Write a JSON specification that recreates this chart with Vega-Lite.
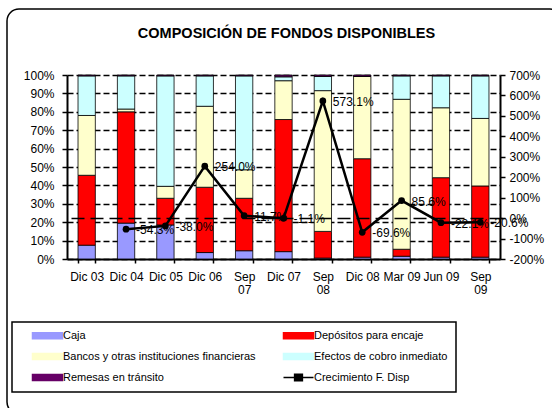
{
  "$schema": "https://vega.github.io/schema/vega-lite/v6.json",
  "width": 555,
  "height": 405,
  "autosize": "none",
  "padding": {"left": 7, "top": 9, "right": -10, "bottom": -6},
  "background": "white",
  "config": {
    "font": "Liberation Sans",
    "view": {"stroke": "black", "strokeWidth": 1.5, "cornerRadius": 12},
    "locale": {"number": {"decimal": ".", "thousands": ",", "grouping": [3], "currency": ["$", ""], "minus": "-"}},
    "axis": {"labelFont": "Liberation Sans", "labelFontSize": 12, "labelColor": "black", "domainColor": "black", "tickColor": "black", "title": null}
  },
  "title": {
    "text": "COMPOSICIÓN DE FONDOS DISPONIBLES",
    "font": "Liberation Sans",
    "fontSize": 14.5,
    "fontWeight": "bold",
    "color": "black",
    "anchor": "middle",
    "frame": "group",
    "baseline": "alphabetic",
    "offset": -43,
    "dx": 2
  },
  "datasets": {
    "barras": [
      {"periodo": "Dic 03", "orden": 1, "serie": "Caja", "valor": 0.075},
      {"periodo": "Dic 03", "orden": 2, "serie": "Depósitos para encaje", "valor": 0.38},
      {"periodo": "Dic 03", "orden": 3, "serie": "Bancos y otras instituciones financieras", "valor": 0.325},
      {"periodo": "Dic 03", "orden": 4, "serie": "Efectos de cobro inmediato", "valor": 0.215},
      {"periodo": "Dic 03", "orden": 5, "serie": "Remesas en tránsito", "valor": 0.005},
      {"periodo": "Dic 04", "orden": 1, "serie": "Caja", "valor": 0.195},
      {"periodo": "Dic 04", "orden": 2, "serie": "Depósitos para encaje", "valor": 0.605},
      {"periodo": "Dic 04", "orden": 3, "serie": "Bancos y otras instituciones financieras", "valor": 0.015},
      {"periodo": "Dic 04", "orden": 4, "serie": "Efectos de cobro inmediato", "valor": 0.18},
      {"periodo": "Dic 04", "orden": 5, "serie": "Remesas en tránsito", "valor": 0.005},
      {"periodo": "Dic 05", "orden": 1, "serie": "Caja", "valor": 0.185},
      {"periodo": "Dic 05", "orden": 2, "serie": "Depósitos para encaje", "valor": 0.145},
      {"periodo": "Dic 05", "orden": 3, "serie": "Bancos y otras instituciones financieras", "valor": 0.065},
      {"periodo": "Dic 05", "orden": 4, "serie": "Efectos de cobro inmediato", "valor": 0.6},
      {"periodo": "Dic 05", "orden": 5, "serie": "Remesas en tránsito", "valor": 0.005},
      {"periodo": "Dic 06", "orden": 1, "serie": "Caja", "valor": 0.035},
      {"periodo": "Dic 06", "orden": 2, "serie": "Depósitos para encaje", "valor": 0.355},
      {"periodo": "Dic 06", "orden": 3, "serie": "Bancos y otras instituciones financieras", "valor": 0.44},
      {"periodo": "Dic 06", "orden": 4, "serie": "Efectos de cobro inmediato", "valor": 0.165},
      {"periodo": "Dic 06", "orden": 5, "serie": "Remesas en tránsito", "valor": 0.005},
      {"periodo": "Sep 07", "orden": 1, "serie": "Caja", "valor": 0.045},
      {"periodo": "Sep 07", "orden": 2, "serie": "Depósitos para encaje", "valor": 0.285},
      {"periodo": "Sep 07", "orden": 3, "serie": "Bancos y otras instituciones financieras", "valor": 0.155},
      {"periodo": "Sep 07", "orden": 4, "serie": "Efectos de cobro inmediato", "valor": 0.51},
      {"periodo": "Sep 07", "orden": 5, "serie": "Remesas en tránsito", "valor": 0.005},
      {"periodo": "Dic 07", "orden": 1, "serie": "Caja", "valor": 0.04},
      {"periodo": "Dic 07", "orden": 2, "serie": "Depósitos para encaje", "valor": 0.718},
      {"periodo": "Dic 07", "orden": 3, "serie": "Bancos y otras instituciones financieras", "valor": 0.211},
      {"periodo": "Dic 07", "orden": 4, "serie": "Efectos de cobro inmediato", "valor": 0.021},
      {"periodo": "Dic 07", "orden": 5, "serie": "Remesas en tránsito", "valor": 0.01},
      {"periodo": "Sep 08", "orden": 1, "serie": "Caja", "valor": 0.005},
      {"periodo": "Sep 08", "orden": 2, "serie": "Depósitos para encaje", "valor": 0.145},
      {"periodo": "Sep 08", "orden": 3, "serie": "Bancos y otras instituciones financieras", "valor": 0.765},
      {"periodo": "Sep 08", "orden": 4, "serie": "Efectos de cobro inmediato", "valor": 0.077},
      {"periodo": "Sep 08", "orden": 5, "serie": "Remesas en tránsito", "valor": 0.008},
      {"periodo": "Dic 08", "orden": 1, "serie": "Caja", "valor": 0.01},
      {"periodo": "Dic 08", "orden": 2, "serie": "Depósitos para encaje", "valor": 0.535},
      {"periodo": "Dic 08", "orden": 3, "serie": "Bancos y otras instituciones financieras", "valor": 0.447},
      {"periodo": "Dic 08", "orden": 4, "serie": "Efectos de cobro inmediato", "valor": 0.0},
      {"periodo": "Dic 08", "orden": 5, "serie": "Remesas en tránsito", "valor": 0.008},
      {"periodo": "Mar 09", "orden": 1, "serie": "Caja", "valor": 0.015},
      {"periodo": "Mar 09", "orden": 2, "serie": "Depósitos para encaje", "valor": 0.038},
      {"periodo": "Mar 09", "orden": 3, "serie": "Bancos y otras instituciones financieras", "valor": 0.815},
      {"periodo": "Mar 09", "orden": 4, "serie": "Efectos de cobro inmediato", "valor": 0.127},
      {"periodo": "Mar 09", "orden": 5, "serie": "Remesas en tránsito", "valor": 0.005},
      {"periodo": "Jun 09", "orden": 1, "serie": "Caja", "valor": 0.01},
      {"periodo": "Jun 09", "orden": 2, "serie": "Depósitos para encaje", "valor": 0.432},
      {"periodo": "Jun 09", "orden": 3, "serie": "Bancos y otras instituciones financieras", "valor": 0.38},
      {"periodo": "Jun 09", "orden": 4, "serie": "Efectos de cobro inmediato", "valor": 0.173},
      {"periodo": "Jun 09", "orden": 5, "serie": "Remesas en tránsito", "valor": 0.005},
      {"periodo": "Sep 09", "orden": 1, "serie": "Caja", "valor": 0.01},
      {"periodo": "Sep 09", "orden": 2, "serie": "Depósitos para encaje", "valor": 0.387},
      {"periodo": "Sep 09", "orden": 3, "serie": "Bancos y otras instituciones financieras", "valor": 0.367},
      {"periodo": "Sep 09", "orden": 4, "serie": "Efectos de cobro inmediato", "valor": 0.231},
      {"periodo": "Sep 09", "orden": 5, "serie": "Remesas en tránsito", "valor": 0.005}
    ],
    "crec": [
      {"periodo": "Dic 04", "crecimiento": -0.543},
      {"periodo": "Dic 05", "crecimiento": -0.38},
      {"periodo": "Dic 06", "crecimiento": 2.54},
      {"periodo": "Sep 07", "crecimiento": 0.117},
      {"periodo": "Dic 07", "crecimiento": -0.011},
      {"periodo": "Sep 08", "crecimiento": 5.731},
      {"periodo": "Dic 08", "crecimiento": -0.696},
      {"periodo": "Mar 09", "crecimiento": 0.856},
      {"periodo": "Jun 09", "crecimiento": -0.221},
      {"periodo": "Sep 09", "crecimiento": -0.206}
    ]
  },
  "encoding": {
    "x": {
      "field": "periodo",
      "type": "nominal",
      "sort": ["Dic 03", "Dic 04", "Dic 05", "Dic 06", "Sep 07", "Dic 07", "Sep 08", "Dic 08", "Mar 09", "Jun 09", "Sep 09"],
      "scale": {
        "domain": ["Dic 03", "Dic 04", "Dic 05", "Dic 06", "Sep 07", "Dic 07", "Sep 08", "Dic 08", "Mar 09", "Jun 09", "Sep 09"],
        "range": [60, 493],
        "paddingInner": 0.56,
        "paddingOuter": 0.28
      },
      "axis": {
        "orient": "bottom",
        "offset": -155,
        "tickBand": "extent",
        "tickSize": 4,
        "tickWidth": 1.5,
        "domainWidth": 2,
        "labelPadding": 8,
        "labelAngle": 0,
        "labelBaseline": "top",
        "labelOverlap": false,
        "labelLineHeight": 13,
        "labelExpr": "indexof(datum.label, 'Sep') == 0 ? split(datum.label, ' ') : datum.label",
        "grid": false
      }
    }
  },
  "layer": [
    {
      "data": {"name": "barras"},
      "mark": {"type": "bar", "stroke": "black", "strokeWidth": 0.8},
      "encoding": {
        "y": {
          "field": "valor",
          "type": "quantitative",
          "stack": "zero",
          "scale": {"domain": [0, 1], "range": [250, 66], "nice": false},
          "axis": {
            "orient": "left",
            "offset": -60,
            "values": [0, 0.1, 0.2, 0.3, 0.4, 0.5, 0.6, 0.7, 0.8, 0.9, 1],
            "format": ".0%",
            "grid": true,
            "gridDash": [6, 3],
            "gridColor": "black",
            "gridWidth": 1.5,
            "gridOpacity": 1,
            "tickSize": 5,
            "tickWidth": 1.5,
            "domainWidth": 2,
            "labelPadding": 8
          }
        },
        "order": {"field": "orden", "type": "quantitative", "sort": "ascending"},
        "color": {
          "field": "serie",
          "type": "nominal",
          "sort": ["Caja", "Depósitos para encaje", "Bancos y otras instituciones financieras", "Efectos de cobro inmediato", "Remesas en tránsito", "Crecimiento F. Disp"],
          "scale": {
            "domain": ["Caja", "Depósitos para encaje", "Bancos y otras instituciones financieras", "Efectos de cobro inmediato", "Remesas en tránsito", "Crecimiento F. Disp"],
            "range": ["#9999FF", "#FF0000", "#FFFFCC", "#CCFFFF", "#660066", "#000000"]
          },
          "legend": {
            "orient": "none",
            "legendX": 5,
            "legendY": 313,
            "direction": "horizontal",
            "columns": 2,
            "title": null,
            "symbolSize": 36,
            "symbolOffset": 22,
            "labelOffset": 10,
            "labelFont": "Liberation Sans",
            "labelFontSize": 11,
            "labelColor": "black",
            "labelLimit": 300,
            "columnPadding": 15,
            "rowPadding": 8,
            "padding": 8,
            "strokeColor": "black",
            "fillColor": "white",
            "symbolStrokeColor": "black",
            "symbolStrokeWidth": 1.5,
            "encode": {
              "symbols": {
                "update": {
                  "shape": {"signal": "datum.value === 'Crecimiento F. Disp' ? 'M-5,0H5M-1.3,-1.1H1.3V1.1H-1.3Z' : 'M-5,-1H5V1H-5Z'"},
                  "fill": {"scale": "color", "field": "value"},
                  "stroke": {"value": "black"},
                  "opacity": {"value": 1}
                }
              },
              "legend": {"update": {"width": {"value": 508}, "strokeWidth": {"value": 1.5}}}
            }
          }
        }
      }
    },
    {
      "data": {"name": "crec"},
      "encoding": {
        "y": {
          "field": "crecimiento",
          "type": "quantitative",
          "scale": {"domain": [-2, 7], "range": [250, 66], "nice": false},
          "axis": {
            "orient": "right",
            "offset": -62,
            "values": [-2, -1, 0, 1, 2, 3, 4, 5, 6, 7],
            "format": ".0%",
            "grid": true,
            "gridDash": [13, 6],
            "gridColor": "black",
            "gridWidth": 1.5,
            "gridOpacity": {"condition": {"test": "datum.value === 0", "value": 1}, "value": 0},
            "tickSize": 5,
            "tickWidth": 1.5,
            "domainWidth": 2,
            "labelPadding": 4,
            "zindex": 1
          }
        }
      },
      "layer": [
        {
          "mark": {"type": "line", "strokeWidth": 2.5},
          "encoding": {"color": {"datum": "Crecimiento F. Disp", "type": "nominal"}}
        },
        {
          "mark": {"type": "point", "filled": true, "shape": "circle", "size": 45, "opacity": 1},
          "encoding": {"color": {"datum": "Crecimiento F. Disp", "type": "nominal"}}
        },
        {
          "mark": {"type": "text", "align": "left", "baseline": "middle", "dx": 10, "dy": 1, "fontSize": 12, "font": "Liberation Sans", "color": "black"},
          "encoding": {"text": {"field": "crecimiento", "type": "quantitative", "format": ".1%"}}
        }
      ]
    }
  ],
  "resolve": {"scale": {"y": "independent"}, "axis": {"y": "independent"}}
}
